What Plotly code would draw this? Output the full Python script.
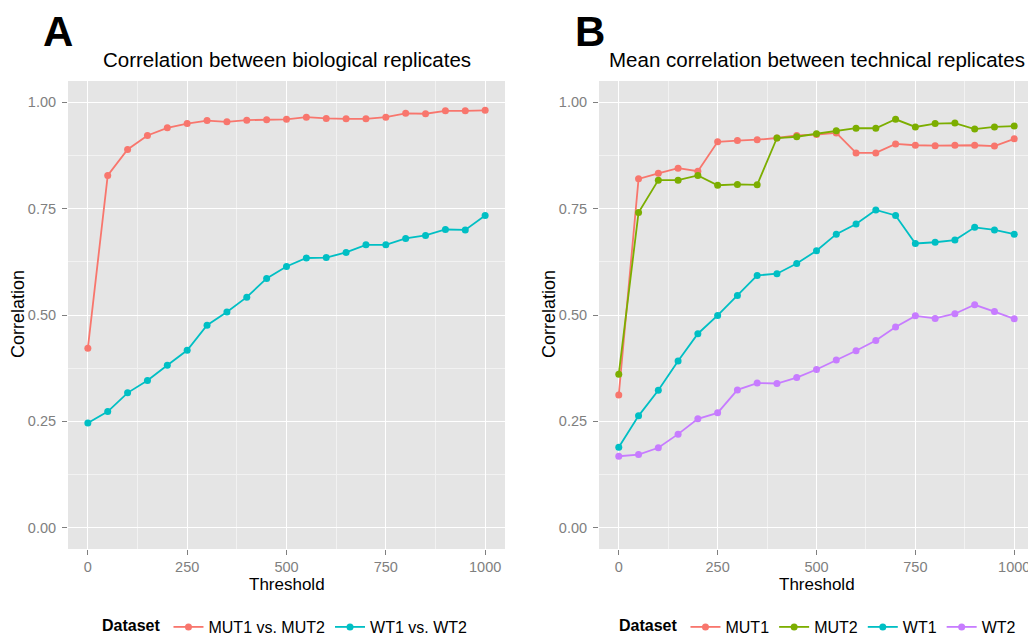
import plotly.graph_objects as go

threshold = [0, 50, 100, 150, 200, 250, 300, 350, 400, 450, 500, 550, 600, 650, 700, 750, 800, 850, 900, 950, 1000]

# Panel A: biological replicates
bio_mut = [0.422, 0.828, 0.889, 0.922, 0.940, 0.950, 0.957, 0.954, 0.958, 0.959, 0.960,
           0.965, 0.962, 0.961, 0.961, 0.965, 0.974, 0.973, 0.980, 0.980, 0.981]
bio_wt = [0.246, 0.273, 0.317, 0.346, 0.382, 0.417, 0.476, 0.507, 0.542, 0.586, 0.614,
          0.634, 0.635, 0.647, 0.665, 0.665, 0.680, 0.687, 0.701, 0.700, 0.734]

# Panel B: technical replicates
tech_mut1 = [0.312, 0.820, 0.833, 0.845, 0.838, 0.907, 0.910, 0.912, 0.916, 0.922, 0.924,
             0.928, 0.881, 0.881, 0.902, 0.899, 0.898, 0.899, 0.899, 0.897, 0.914]
tech_mut2 = [0.361, 0.741, 0.817, 0.817, 0.828, 0.805, 0.807, 0.806, 0.916, 0.919, 0.926,
             0.933, 0.939, 0.939, 0.960, 0.942, 0.950, 0.951, 0.937, 0.942, 0.944]
tech_wt1 = [0.189, 0.263, 0.323, 0.392, 0.456, 0.499, 0.546, 0.593, 0.597, 0.621, 0.651,
            0.690, 0.714, 0.747, 0.734, 0.668, 0.671, 0.676, 0.706, 0.700, 0.690]
tech_wt2 = [0.168, 0.172, 0.188, 0.220, 0.256, 0.270, 0.324, 0.340, 0.339, 0.353, 0.372,
            0.394, 0.416, 0.440, 0.472, 0.498, 0.492, 0.503, 0.524, 0.508, 0.491]

labels_a = ["MUT1 vs. MUT2", "WT1 vs. WT2"]
labels_b = ["MUT1", "MUT2", "WT1", "WT2"]
colors_a = ["#F8766D", "#00BFC4"]
colors_b = ["#F8766D", "#7CAE00", "#00BFC4", "#C77CFF"]

x_ticks = [0, 250, 500, 750, 1000]
y_ticks = [0.0, 0.25, 0.5, 0.75, 1.0]
y_ticktext = ["0.00", "0.25", "0.50", "0.75", "1.00"]

FONT = "Liberation Sans, Arial, Helvetica, sans-serif"

fig = go.Figure()
for vals, name, col in zip([bio_mut, bio_wt], labels_a, colors_a):
    fig.add_trace(go.Scatter(x=threshold, y=vals, name=name, mode="lines+markers",
                             line=dict(color=col, width=1.8), marker=dict(color=col, size=7),
                             xaxis="x", yaxis="y", legend="legend"))
for vals, name, col in zip([tech_mut1, tech_mut2, tech_wt1, tech_wt2], labels_b, colors_b):
    fig.add_trace(go.Scatter(x=threshold, y=vals, name=name, mode="lines+markers",
                             line=dict(color=col, width=1.8), marker=dict(color=col, size=7),
                             xaxis="x2", yaxis="y2", legend="legend2"))

# page body has an 8px default margin; compensate so screen positions match
OFF = 8
W, H = 1036 - OFF, 639 - OFF
top_px, bot_px, left_px, right_px = 81, 549, 68, 1034
ml = left_px - OFF
mt = top_px - OFF
mr = W - (right_px - OFF)
mb = H - (bot_px - OFF)
pw = W - ml - mr
ph = H - mt - mb

def xpx(px):
    return (px - OFF - ml) / pw

def ypx(py):
    return (H - mb - (py - OFF)) / ph

def ycont(py):
    return (H - (py - OFF)) / H

dA = [0, xpx(505)]
dB = [xpx(599), 1]

def xax(domain, anchor):
    return dict(domain=domain, anchor=anchor, range=[-50, 1050], tickvals=x_ticks,
                showgrid=True, gridcolor="white", gridwidth=1.3, zeroline=False,
                ticks="outside", ticklen=5, tickwidth=1, tickcolor="#7F7F7F",
                tickfont=dict(size=14.5, color="#7F7F7F", family=FONT),
                minor=dict(dtick=125, tick0=0, showgrid=True, gridcolor="#F2F2F2", gridwidth=0.6),
                showline=False)

def yax(anchor):
    return dict(anchor=anchor, domain=[0, 1], range=[-0.05, 1.05], tickvals=y_ticks, ticktext=y_ticktext,
                showgrid=True, gridcolor="white", gridwidth=1.3, zeroline=False,
                ticks="outside", ticklen=5, tickwidth=1, tickcolor="#7F7F7F",
                tickfont=dict(size=14.5, color="#7F7F7F", family=FONT), ticklabelstandoff=3,
                minor=dict(dtick=0.125, tick0=0, showgrid=True, gridcolor="#F2F2F2", gridwidth=0.6),
                showline=False)

def ann(text, x, y, size, angle=0, xanchor="center"):
    return dict(text=text, x=xpx(x), y=ypx(y), xref="paper", yref="paper", textangle=angle,
                xanchor=xanchor, yanchor="middle", showarrow=False,
                font=dict(size=size, color="black", family=FONT))

annotations = [
    ann("<b>A</b>", 41, 32, 42, xanchor="left"),
    ann("<b>B</b>", 573, 32, 42, xanchor="left"),
    ann("Correlation between biological replicates", 286.5, 60, 20.5),
    ann("Mean correlation between technical replicates", 816.5, 60, 20.5),
    ann("Correlation", 18, 314, 18, angle=-90),
    ann("Correlation", 549, 314, 18, angle=-90),
    ann("Threshold", 286.5, 584, 17),
    ann("Threshold", 817, 584, 17),
]

leg_common = dict(orientation="h", yanchor="middle", xanchor="center", bgcolor="rgba(0,0,0,0)",
                  yref="container", font=dict(size=16, color="black", family=FONT), itemwidth=30,
                  title=dict(text="<b>Dataset</b>", side="left", font=dict(size=16, family=FONT)))

fig.update_layout(
    width=W, height=H, autosize=False,
    margin=dict(l=ml, r=mr, t=mt, b=mb),
    paper_bgcolor="white", plot_bgcolor="#E5E5E5",
    font=dict(family=FONT),
    xaxis=xax(dA, "y"), yaxis=yax("x"),
    xaxis2=xax(dB, "y2"), yaxis2=yax("x2"),
    legend=dict(x=xpx(286.5), y=ycont(627), **leg_common),
    legend2=dict(x=xpx(819), y=ycont(627), **leg_common),
    annotations=annotations,
    showlegend=True,
)

fig.write_html("out.html")
